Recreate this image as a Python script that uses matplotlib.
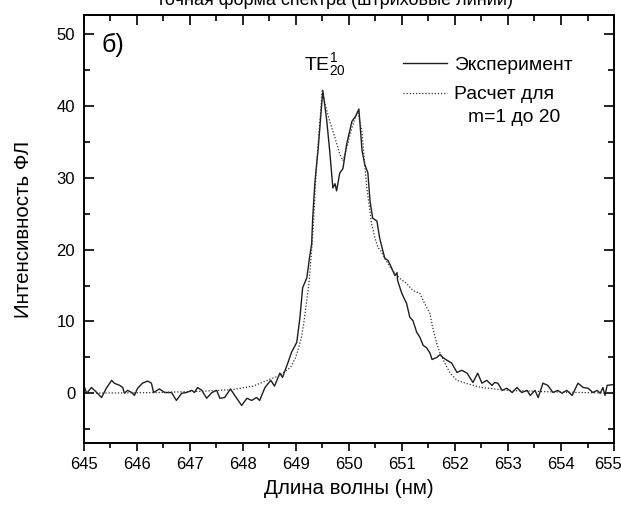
import matplotlib
matplotlib.use("Agg")
import matplotlib.pyplot as plt
import matplotlib.transforms as mtransforms
from matplotlib.ticker import MultipleLocator

plt.rcParams["font.family"] = ["Liberation Sans", "DejaVu Sans"]
plt.rcParams["mathtext.fontset"] = "custom"
plt.rcParams["mathtext.rm"] = "Liberation Sans"

exp_wl = [645.02, 645.06, 645.15, 645.25, 645.34, 645.43, 645.53, 645.58, 645.68, 645.74,
          645.77, 645.83, 645.91, 645.96, 646.02, 646.11, 646.21, 646.28, 646.32, 646.43,
          646.53, 646.66, 646.75, 646.85, 646.94, 647.04, 647.09, 647.15, 647.23, 647.32,
          647.42, 647.51, 647.57, 647.66, 647.77, 647.85, 647.98, 648.08, 648.17, 648.26,
          648.32, 648.42, 648.53, 648.60, 648.70, 648.75, 648.85, 648.92, 649.02, 649.08,
          649.13, 649.21, 649.26, 649.30, 649.32, 649.36, 649.40, 649.42, 649.51, 649.58,
          649.64, 649.70, 649.74, 649.77, 649.83, 649.89, 649.96, 650.06, 650.13, 650.19,
          650.25, 650.30, 650.36, 650.40, 650.45, 650.53, 650.58, 650.64, 650.68, 650.74,
          650.81, 650.87, 650.91, 650.92, 651.00, 651.09, 651.15, 651.21, 651.28, 651.34,
          651.40, 651.47, 651.53, 651.57, 651.66, 651.72, 651.77, 651.85, 651.94, 652.04,
          652.13, 652.23, 652.34, 652.43, 652.51, 652.60, 652.70, 652.75, 652.81, 652.89,
          652.98, 653.08, 653.17, 653.26, 653.36, 653.42, 653.51, 653.57, 653.66, 653.75,
          653.85, 653.94, 654.02, 654.11, 654.21, 654.32, 654.42, 654.51, 654.60, 654.68,
          654.74, 654.79, 654.83, 654.87, 654.98]
exp_int = [0.8, 0.0, 0.8, 0.1, -0.6, 0.7, 1.8, 1.4, 1.1, 0.8,
           0.0, 0.4, 0.1, -0.3, 0.7, 1.4, 1.7, 1.4, 0.1, 0.6,
           0.1, 0.1, -1.0, 0.0, 0.1, 0.4, 0.1, 0.8, 0.4, -0.7,
           0.1, 0.4, -0.7, -0.6, 0.6, -0.3, -1.7, -0.7, -1.0, -0.6,
           -1.0, 0.8, 1.8, 1.0, 2.8, 2.2, 4.2, 5.7, 7.1, 10.6,
           14.7, 16.1, 18.9, 20.8, 24.4, 29.2, 32.4, 33.8, 42.2, 38.3,
           33.8, 28.6, 29.2, 28.2, 30.7, 31.3, 34.7, 37.9, 38.6, 39.6,
           33.8, 31.9, 30.7, 26.8, 24.4, 24.0, 21.7, 19.9, 18.8, 18.5,
           17.4, 16.4, 16.8, 15.7, 13.9, 12.5, 10.6, 10.1, 8.5, 7.8,
           6.7, 6.3, 5.6, 4.7, 5.0, 5.4, 5.0, 4.6, 4.2, 2.9,
           3.2, 2.8, 1.5, 2.8, 1.4, 1.8, 1.1, 1.5, 1.4, 0.4,
           0.7, 0.1, 0.8, 0.1, 0.4, -0.3, 0.4, -0.6, 1.4, 1.1,
           0.1, 0.4, 0.0, 0.4, -0.3, 1.4, 0.8, 0.7, 0.1, 0.4,
           0.0, 0.8, -0.3, 1.1, 1.2]

# calculation for m=1..20 (dotted line)
calc_wl = [645.0, 646.4, 647.3, 647.8, 648.2, 648.4, 648.7, 648.9, 649.0, 649.1,
           649.15, 649.25, 649.3, 649.34, 649.37, 649.42, 649.5, 649.55, 649.64, 649.74,
           649.83, 649.89, 649.98, 650.06, 650.15, 650.17, 650.25, 650.30, 650.34, 650.38,
           650.43, 650.49, 650.55, 650.60, 650.70, 650.79, 650.87, 650.96, 651.09, 651.21,
           651.34, 651.43, 651.53, 651.58, 651.66, 651.72, 651.81, 651.91, 652.04, 652.2,
           652.5, 653.0, 653.8, 655.0]
calc_int = [0.0, 0.1, 0.3, 0.5, 1.0, 1.6, 2.5, 3.6, 5.0, 7.5,
            9.7, 15.3, 19.9, 24.4, 29.0, 34.5, 42.2, 40.4, 37.9, 35.6,
            33.3, 32.4, 34.7, 37.0, 39.0, 39.3, 36.3, 31.9, 28.6, 26.4,
            23.6, 21.7, 20.3, 19.9, 18.5, 17.5, 16.7, 16.0, 15.3, 14.3,
            13.9, 12.5, 11.1, 9.2, 6.9, 5.6, 4.2, 2.8, 1.8, 1.4,
            0.8, 0.4, 0.2, 0.0]

fig = plt.figure(figsize=(6.21, 5.05), dpi=100)
ax = fig.add_axes([0.1345, 0.1218, 0.8543, 0.8485])

ax.plot(exp_wl, exp_int, color="#1e1e1e", lw=1.0, label="Эксперимент")
ax.plot(calc_wl, calc_int, color="#333333", lw=0.9, ls=(0, (1, 1.5)), label="Расчет для")

ax.set_xlim(645, 655)
ax.set_ylim(-7, 52.7)
ax.set_xticks(range(645, 656))
ax.xaxis.set_minor_locator(MultipleLocator(0.5))
ax.yaxis.set_major_locator(MultipleLocator(10))
ax.yaxis.set_minor_locator(MultipleLocator(5))

ax.tick_params(axis="x", which="both", direction="out", top=False, labelsize=12, pad=4)
ax.tick_params(axis="x", which="major", length=6, width=1.2)
ax.tick_params(axis="x", which="minor", length=3.5, width=1.2)
ax.tick_params(axis="y", which="both", direction="in", right=True, labelsize=12, pad=6)
ax.tick_params(axis="y", which="major", length=7, width=1.2)
ax.tick_params(axis="y", which="minor", length=4, width=1.2)

# last x label shifted left so it fits, as in the original
last = ax.xaxis.get_major_ticks()[-1].label1
last.set_transform(last.get_transform() + mtransforms.ScaledTranslation(-6 / 100, 0, fig.dpi_scale_trans))

# top ticks pointing inwards
top = ax.secondary_xaxis("top")
top.xaxis.set_major_locator(MultipleLocator(1))
top.xaxis.set_minor_locator(MultipleLocator(0.5))
top.tick_params(which="both", direction="in", labeltop=False, width=1.2)
top.tick_params(which="major", length=7)
top.tick_params(which="minor", length=4)
top.spines["top"].set_linewidth(1.4)

for s in ax.spines.values():
    s.set_linewidth(1.4)

ax.set_xlabel("Длина волны (нм)", fontsize=14.8, labelpad=4.5)
ax.set_ylabel("Интенсивность ФЛ", fontsize=14.8, labelpad=17)

ax.text(0.056, 0.93, "б)", transform=ax.transAxes, fontsize=18, ha="center", va="center")
ax.text(649.55, 45.8, r"$\mathregular{TE_{20}^{1}}$", fontsize=14, ha="center", va="center")

ax.legend(loc="upper left", bbox_to_anchor=(0.602, 0.903), frameon=False, fontsize=13.9,
          handlelength=2.3, handletextpad=0.36, labelspacing=0.61, borderpad=0, borderaxespad=0)
ax.text(0.725, 0.76, "m=1 до 20", transform=ax.transAxes, fontsize=13.9, ha="left", va="center")

fig.text(0.54, 1.0, "точная форма спектра (штриховые линии)", fontsize=13, ha="center", va="center")

fig.savefig("out.png", dpi=100)
